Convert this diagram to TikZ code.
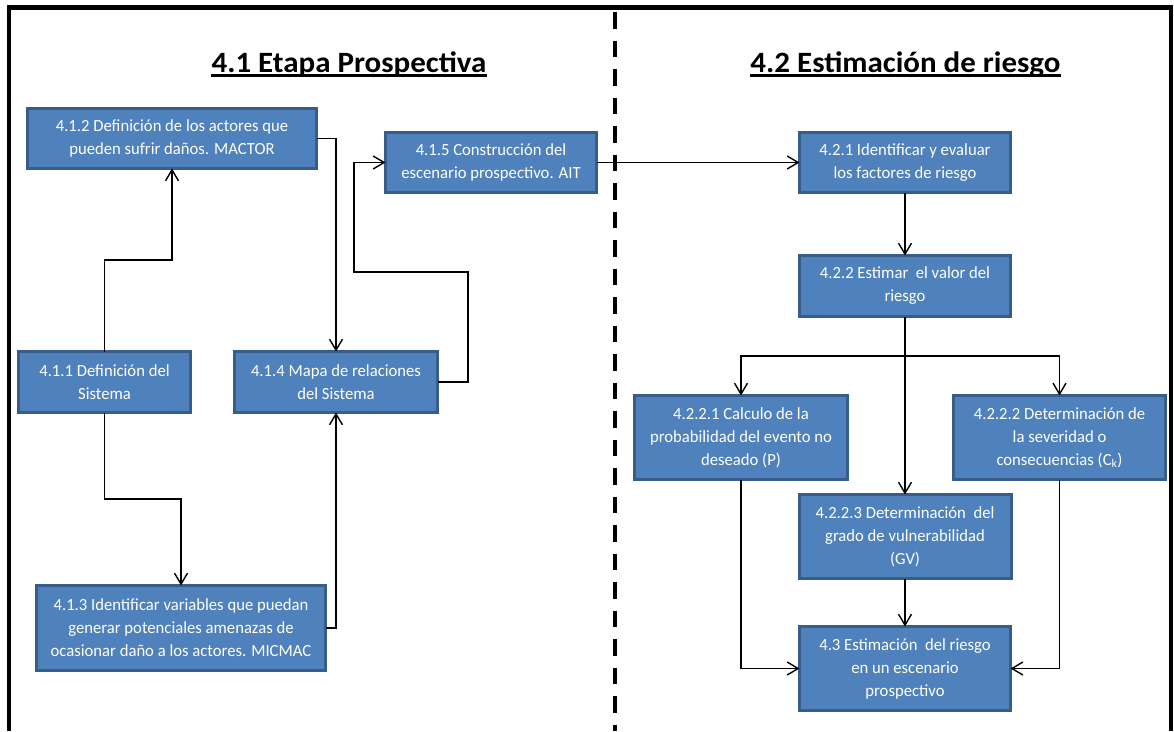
\documentclass[tikz,border=0pt]{standalone}
\usepackage{fontspec}
\setmainfont{Carlito}
\newfontfamily\boxfamily[FakeStretch=0.98]{Carlito}
\newfontfamily\headfamily[FakeStretch=1.05]{Carlito}
\usetikzlibrary{arrows.meta}
\definecolor{boxfill}{RGB}{79,129,189}
\definecolor{boxline}{RGB}{56,93,138}
\tikzset{
  stepbox/.style={draw=boxline, fill=boxfill, line width=3pt, text=white,
    align=center, inner sep=0pt, outer sep=0pt,
    font=\boxfamily\fontsize{17}{23}\selectfont},
  flow/.style={line width=1.4pt, -{Straight Barb[length=11pt,width=13pt]}},
  plain/.style={line width=1.4pt},
  heading/.style={font=\headfamily\bfseries\fontsize{29.5}{32}\selectfont, inner sep=0pt, anchor=base}
}
\begin{document}
\begin{tikzpicture}[x=1pt,y=-1pt]
\useasboundingbox (0,0) rectangle (1174,731);
% outer frame (open at the bottom) and column divider
\draw[line width=4.5pt] (9,731) -- (9,7.5) -- (1171,7.5) -- (1171,731);
\draw[line width=4.5pt, dash pattern=on 16.5pt off 12pt] (615,12) -- (615,731);

% column headings
\node[heading] (h1) at (349,72) {4.1 Etapa Prospectiva};
\node[heading] (h2) at (905.5,72) {4.2 Estimación de riesgo};
\draw[line width=2.6pt] ([yshift=-3.2pt]h1.base west) -- ([yshift=-3.2pt]h1.base east);
\draw[line width=2.6pt] ([yshift=-3.2pt]h2.base west) -- ([yshift=-3.2pt]h2.base east);

% stage 4.1
\node[stepbox, minimum width=289pt, minimum height=60pt] (a412) at (172,138.5)
  {4.1.2 Definición de los actores que\\ pueden sufrir daños. MACTOR};
\node[stepbox, minimum width=211pt, minimum height=60pt] (a415) at (491,162.5)
  {4.1.5 Construcción del\\ escenario prospectivo. AIT};
\node[stepbox, minimum width=172pt, minimum height=61pt] (a411) at (104.5,382)
  {4.1.1 Definición del\\ Sistema};
\node[stepbox, minimum width=203pt, minimum height=61pt] (a414) at (336,382)
  {4.1.4 Mapa de relaciones\\ del Sistema};
\node[stepbox, minimum width=289pt, minimum height=85pt] (a413) at (181,628)
  {4.1.3 Identificar variables que puedan\\ generar potenciales amenazas de\\ ocasionar daño a los actores. MICMAC};

% stage 4.2
\node[stepbox, minimum width=211pt, minimum height=60pt] (b421) at (905,162.5)
  {4.2.1 Identificar y evaluar\\ los factores de riesgo};
\node[stepbox, minimum width=211pt, minimum height=61pt] (b422) at (905,286)
  {4.2.2 Estimar\ \ el valor del\\ riesgo};
\node[stepbox, minimum width=213pt, minimum height=84pt] (b4221) at (741,437.5)
  {4.2.2.1 Calculo de la\\ probabilidad del evento no\\ deseado (P)};
\node[stepbox, minimum width=212pt, minimum height=84pt] (b4222) at (1059.5,437.5)
  {4.2.2.2 Determinación de\\ la severidad o\\ consecuencias (C\textsubscript{k})};
\node[stepbox, minimum width=212pt, minimum height=84pt] (b4223) at (905,536.5)
  {4.2.2.3 Determinación\ \ del\\ grado de vulnerabilidad\\ (GV)};
\node[stepbox, minimum width=211pt, minimum height=84pt] (b43) at (905,668.5)
  {4.3 Estimación\ \ del riesgo\\ en un escenario\\ prospectivo};

% connectors, stage 4.1
\draw[flow] (a411.north) -- (a411.north |- 0,260) -- (a412.south |- 0,260) -- (a412.south);
\draw[flow] (a412.east) -| (a414.north);
\draw[flow] (a414.east) -- (468,382) -- (468,272) -- (354,272) -- (354,162.5) -- (a415.west);
\draw[flow] (a411.south) -- (a411.south |- 0,499) -- (a413.north |- 0,499) -- (a413.north);
\draw[flow] (a413.east) -| (a414.south);
\draw[flow] (a415.east) -- (b421.west);

% connectors, stage 4.2
\coordinate (split) at (905,356);
\draw[flow] (b421.south) -- (b422.north);
\draw[plain] (b422.south) -- (split);
\draw[flow] (split) -| (b4221.north);
\draw[flow] (split) -| (b4222.north);
\draw[flow] (split) -- (b4223.north);
\draw[flow] (b4223.south) -- (b43.north);
\draw[flow] (b4221.south) |- (b43.west);
\draw[flow] (b4222.south) |- (b43.east);
\end{tikzpicture}
\end{document}
